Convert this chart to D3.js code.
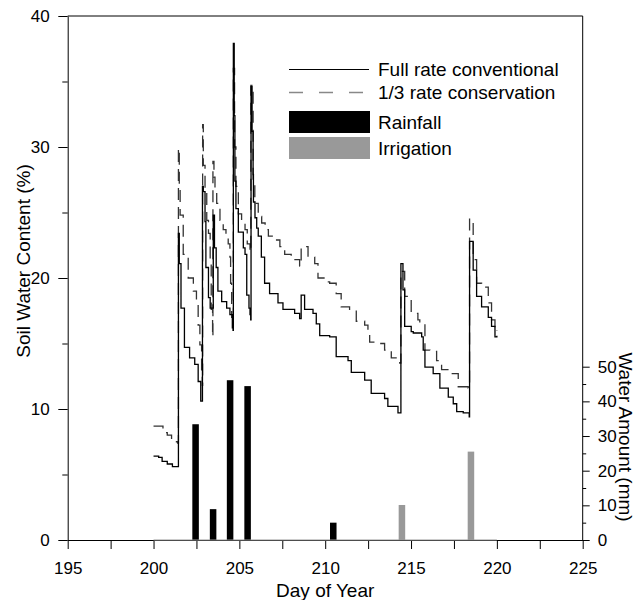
<!DOCTYPE html>
<html>
<head>
<meta charset="utf-8">
<script src="https://cdn.jsdelivr.net/npm/d3@7"></script>
<style>
  body { margin: 0; background: #fff; }
  svg text { font-family: "Liberation Sans", Arial, sans-serif; fill: #000; }
</style>
</head>
<body>
<div id="chart"></div>
<script>
// soil water content (%), [day of year, value]
var fullRate = [
    [200.0, 6.4], [200.3, 6.3], [200.5, 6.0], [200.8, 5.8], [201.1, 5.6], [201.42, 5.6],
    [201.45, 23.4], [201.5, 21.1], [201.6, 17.7], [201.8, 14.7], [202.1, 13.9], [202.4, 13.4],
    [202.6, 12.1], [202.75, 10.6], [202.83, 10.6], [202.85, 27.0], [202.9, 26.6], [203.0, 24.3],
    [203.05, 20.8], [203.2, 18.5], [203.3, 17.7], [203.45, 17.7], [203.48, 24.8], [203.55, 22.3],
    [203.65, 20.8], [203.75, 19.0], [203.97, 18.2], [204.26, 17.7], [204.45, 17.2], [204.59, 16.2],
    [204.63, 16.0], [204.65, 37.9], [204.7, 32.4], [204.74, 27.4], [204.8, 25.3], [204.94, 23.5],
    [205.23, 22.3], [205.33, 21.8], [205.43, 18.7], [205.56, 17.7], [205.62, 17.2], [205.66, 16.8],
    [205.68, 34.6], [205.74, 31.2], [205.8, 27.9], [205.82, 25.8], [205.91, 24.6], [206.01, 23.8],
    [206.1, 23.2], [206.28, 21.6], [206.47, 19.6], [206.76, 18.8], [207.25, 18.1], [207.54, 17.6],
    [208.22, 17.3], [208.51, 16.9], [208.6, 18.7], [208.8, 17.6], [209.29, 17.3], [209.48, 16.5],
    [209.68, 15.6], [210.26, 15.5], [210.64, 14.0], [211.33, 13.7], [211.52, 12.8], [212.3, 12.2],
    [212.68, 11.2], [213.46, 10.8], [213.65, 10.2], [214.24, 9.7], [214.39, 9.7], [214.41, 21.1],
    [214.53, 19.1], [214.63, 16.3], [215.01, 15.9], [215.13, 15.8], [215.62, 15.5], [215.71, 14.5],
    [215.81, 13.2], [216.29, 12.7], [216.68, 11.6], [217.17, 10.9], [217.46, 10.4], [217.66, 9.8],
    [218.04, 9.7], [218.39, 9.4], [218.41, 22.8], [218.62, 20.6], [218.82, 18.6], [219.11, 17.8],
    [219.5, 17.0], [219.69, 16.3], [219.89, 15.5], [220.0, 15.6]
];
var consRate = [
    [200.0, 8.7], [200.4, 8.7], [200.55, 8.2], [200.8, 8.0], [201.05, 7.5], [201.4, 7.4],
    [201.45, 29.9], [201.5, 27.1], [201.55, 24.8], [201.73, 21.8], [202.02, 20.0], [202.32, 19.0],
    [202.5, 18.2], [202.6, 16.4], [202.7, 14.9], [202.8, 12.5], [202.84, 11.8], [202.86, 31.7],
    [202.9, 28.6], [203.0, 26.6], [203.1, 24.4], [203.2, 23.4], [203.3, 21.1], [203.36, 17.6],
    [203.44, 15.5], [203.46, 28.9], [203.52, 27.7], [203.58, 26.7], [203.68, 25.7], [203.87, 24.4],
    [204.06, 23.7], [204.22, 23.2], [204.35, 22.6], [204.45, 21.6], [204.49, 19.6], [204.55, 17.0],
    [204.62, 16.5], [204.65, 36.0], [204.72, 30.0], [204.8, 27.0], [204.94, 24.9], [205.13, 24.4],
    [205.33, 23.7], [205.46, 22.6], [205.62, 22.0], [205.67, 34.7], [205.8, 27.2], [205.9, 25.7],
    [206.1, 24.7], [206.3, 24.2], [206.5, 23.7], [206.69, 23.2], [206.97, 22.9], [207.36, 22.4],
    [207.64, 21.8], [208.02, 21.4], [208.51, 20.9], [208.6, 22.4], [209.0, 21.6], [209.39, 21.1],
    [209.58, 20.0], [209.97, 19.7], [210.26, 19.6], [210.64, 18.8], [210.93, 17.8], [211.42, 17.6],
    [211.81, 16.7], [212.3, 16.4], [212.49, 16.0], [212.59, 15.1], [213.07, 15.0], [213.46, 14.5],
    [213.85, 13.9], [214.34, 13.5], [214.39, 13.5], [214.41, 20.5], [214.63, 18.6], [215.01, 17.3],
    [215.4, 16.8], [215.51, 16.5], [215.81, 14.5], [216.1, 14.4], [216.49, 13.7], [216.78, 13.0],
    [217.36, 12.7], [217.75, 11.7], [218.33, 11.6], [218.39, 11.6], [218.41, 24.5], [218.62, 21.4],
    [218.82, 19.6], [219.11, 19.3], [219.5, 18.1], [219.69, 16.8], [219.89, 15.9], [220.0, 16.0]
];

// water amounts (mm)
var rainDays = [202.45, 203.47, 204.46, 205.48, 210.47];
var rainMm = [33.4, 8.9, 46.1, 44.4, 5.0];
var irrDays = [214.47, 218.49];
var irrMm = [10.1, 25.5];

var xTicks = [195, 197.5, 200, 202.5, 205, 207.5, 210, 212.5, 215, 217.5, 220, 222.5, 225];
var yTicks = [0, 5, 10, 15, 20, 25, 30, 35, 40];
var y2Ticks = [0, 5, 10, 15, 20, 25, 30, 35, 40, 45, 50];

var legendLabels = ["Full rate conventional", "1/3 rate conservation", "Rainfall", "Irrigation"];

(function drawChart() {
    var width = 644, height = 600;
    var plot = { left: 67.7, right: 582.7, top: 16, bottom: 540 };

    var x = d3.scaleLinear().domain([195, 225]).range([plot.left, plot.right]);
    var y = d3.scaleLinear().domain([0, 40]).range([plot.bottom, plot.top]);
    var y2 = d3.scaleLinear().domain([0, 50]).range([plot.bottom, 366.7]);

    var svg = d3.select("#chart").append("svg")
        .attr("width", width)
        .attr("height", height);

    // bars first, lines on top
    var barW = 0.38;
    svg.append("g").selectAll("rect")
        .data(rainDays.map(function(d, i) { return [d, rainMm[i]]; }))
        .enter().append("rect")
        .attr("x", function(d) { return x(d[0] - barW / 2); })
        .attr("width", function(d) { return x(d[0] + barW / 2) - x(d[0] - barW / 2); })
        .attr("y", function(d) { return y2(d[1]); })
        .attr("height", function(d) { return y2(0) - y2(d[1]); })
        .attr("fill", "#000");

    svg.append("g").selectAll("rect")
        .data(irrDays.map(function(d, i) { return [d, irrMm[i]]; }))
        .enter().append("rect")
        .attr("x", function(d) { return x(d[0] - barW / 2); })
        .attr("width", function(d) { return x(d[0] + barW / 2) - x(d[0] - barW / 2); })
        .attr("y", function(d) { return y2(d[1]); })
        .attr("height", function(d) { return y2(0) - y2(d[1]); })
        .attr("fill", "#999");

    var line = d3.line()
        .x(function(d) { return x(d[0]); })
        .y(function(d) { return y(d[1]); })
        .curve(d3.curveStepAfter);

    svg.append("path")
        .datum(consRate)
        .attr("d", line)
        .attr("fill", "none")
        .attr("stroke", "#333")
        .attr("stroke-width", 1.3)
        .attr("stroke-dasharray", "12,7");

    svg.append("path")
        .datum(fullRate)
        .attr("d", line)
        .attr("fill", "none")
        .attr("stroke", "#000")
        .attr("stroke-width", 1.3);

    // frame top and right
    svg.append("line")
        .attr("x1", plot.left).attr("x2", plot.right).attr("y1", plot.top).attr("y2", plot.top)
        .attr("stroke", "#000");
    svg.append("line")
        .attr("x1", plot.right).attr("x2", plot.right).attr("y1", plot.top).attr("y2", plot.bottom)
        .attr("stroke", "#000");

    // axes
    var xAxis = d3.axisBottom(x)
        .tickValues(xTicks)
        .tickSize(9)
        .tickSizeOuter(0)
        .tickPadding(13)
        .tickFormat(function(d) { return d % 5 === 0 ? d : ""; });

    svg.append("g")
        .attr("transform", "translate(0," + plot.bottom + ")")
        .call(xAxis);

    var yAxis = d3.axisLeft(y)
        .tickValues(yTicks)
        .tickSizeOuter(0)
        .tickPadding(12)
        .tickFormat(function(d) { return d % 10 === 0 ? d : ""; });

    var gy = svg.append("g")
        .attr("transform", "translate(" + plot.left + ",0)")
        .call(yAxis);
    gy.selectAll(".tick line").attr("x2", function(d) { return d % 10 === 0 ? -9.4 : -5.4; });

    var y2Axis = d3.axisRight(y2)
        .tickValues(y2Ticks)
        .tickSizeOuter(0)
        .tickPadding(9)
        .tickFormat(function(d) { return d % 10 === 0 ? d : ""; });

    var gy2 = svg.append("g")
        .attr("transform", "translate(" + plot.right + ",0)")
        .call(y2Axis);
    gy2.select(".domain").remove();
    gy2.selectAll(".tick line").attr("x2", function(d) { return d % 10 === 0 ? 7 : 3.5; });

    svg.selectAll(".tick text")
        .style("font-size", "17px")
        .style("font-family", "'Liberation Sans', Arial, sans-serif");
    svg.selectAll(".domain, .tick line").attr("stroke", "#000");

    // zero line of the water amount series over the axis
    svg.append("line")
        .attr("x1", x(200)).attr("x2", x(220))
        .attr("y1", y2(0)).attr("y2", y2(0))
        .attr("stroke", "#999");

    // axis titles
    svg.append("text")
        .attr("transform", "translate(30,261) rotate(-90)")
        .attr("text-anchor", "middle")
        .style("font-size", "19px")
        .text("Soil Water Content (%)");

    svg.append("text")
        .attr("x", (plot.left + plot.right) / 2)
        .attr("y", 597)
        .attr("text-anchor", "middle")
        .style("font-size", "19px")
        .text("Day of Year");

    svg.append("text")
        .attr("transform", "translate(619,437) rotate(90)")
        .attr("text-anchor", "middle")
        .style("font-size", "19px")
        .text("Water Amount (mm)");

    // legend
    var lg = svg.append("g");
    var lx0 = 289, lx1 = 369, tx = 378;
    var rowY = [69.5, 92.5, 122, 148];

    lg.append("line")
        .attr("x1", lx0).attr("x2", lx1).attr("y1", rowY[0]).attr("y2", rowY[0])
        .attr("stroke", "#000");
    lg.append("line")
        .attr("x1", lx0).attr("x2", lx1).attr("y1", rowY[1]).attr("y2", rowY[1])
        .attr("stroke", "#888")
        .attr("stroke-width", 1.3)
        .attr("stroke-dasharray", "14,16");
    lg.append("rect")
        .attr("x", lx0).attr("y", rowY[2] - 11).attr("width", lx1 - lx0 + 1).attr("height", 22)
        .attr("fill", "#000");
    lg.append("rect")
        .attr("x", lx0).attr("y", rowY[3] - 11).attr("width", lx1 - lx0 + 1).attr("height", 22)
        .attr("fill", "#999");

    lg.selectAll("text")
        .data(legendLabels)
        .enter().append("text")
        .attr("x", tx)
        .attr("y", function(d, i) { return rowY[i]; })
        .attr("dy", "0.36em")
        .style("font-size", "19px")
        .text(function(d) { return d; });
})();
</script>
</body>
</html>
